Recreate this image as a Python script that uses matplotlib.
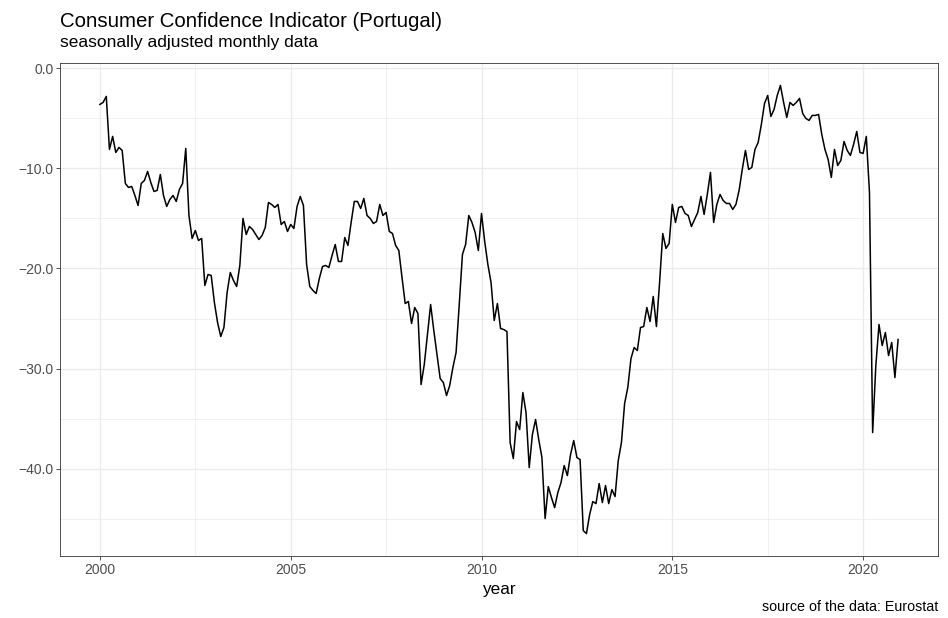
import numpy as np
import pandas as pd
import matplotlib
matplotlib.use("Agg")
import matplotlib.pyplot as plt

# monthly consumer confidence indicator, Portugal, Jan 2000 - Dec 2020
start_year = 2000
cci = [
    -3.6, -3.4, -2.8, -8.1, -6.8, -8.4, -7.9, -8.2, -11.5, -11.9, -11.8, -12.7,
    -13.7, -11.5, -11.2, -10.3, -11.4, -12.3, -12.2, -10.6, -12.7, -13.8, -13.1, -12.7,
    -13.3, -12.1, -11.5, -8.0, -14.7, -17.0, -16.2, -17.2, -17.0, -21.7, -20.6, -20.7,
    -23.4, -25.4, -26.8, -25.9, -22.4, -20.4, -21.2, -21.8, -19.7, -15.0, -16.6, -15.8,
    -16.1, -16.6, -17.1, -16.7, -15.9, -13.4, -13.6, -13.9, -13.6, -15.6, -15.3, -16.3,
    -15.6, -16.0, -13.8, -12.8, -13.7, -19.6, -21.8, -22.2, -22.5, -21.0, -19.8, -19.7,
    -19.9, -18.7, -17.6, -19.3, -19.3, -16.9, -17.7, -15.4, -13.3, -13.3, -14.0, -13.0,
    -14.7, -15.0, -15.5, -15.3, -13.6, -14.7, -14.4, -16.3, -16.5, -17.7, -18.2, -20.9,
    -23.5, -23.3, -25.5, -23.9, -24.5, -31.6, -29.6, -26.6, -23.6, -26.2, -28.6, -31.0,
    -31.4, -32.7, -31.7, -29.9, -28.4, -23.6, -18.6, -17.6, -14.7, -15.4, -16.4, -18.2,
    -14.5, -17.3, -19.6, -21.4, -25.2, -23.5, -26.0, -26.1, -26.3, -37.4, -39.0, -35.3,
    -36.1, -32.4, -34.4, -39.9, -36.6, -35.1, -37.1, -38.9, -45.0, -41.8, -42.9, -43.9,
    -42.4, -41.4, -39.7, -40.7, -38.6, -37.2, -38.9, -39.1, -46.2, -46.5, -44.6, -43.3,
    -43.5, -41.5, -43.4, -41.7, -43.5, -42.1, -42.8, -39.2, -37.4, -33.5, -31.9, -29.0,
    -27.9, -28.2, -25.9, -25.8, -23.9, -25.3, -22.8, -25.8, -21.4, -16.5, -18.0, -17.5,
    -13.6, -15.4, -13.9, -13.8, -14.5, -14.7, -15.8, -15.1, -14.4, -12.8, -14.6, -12.6,
    -10.4, -15.4, -13.6, -12.6, -13.2, -13.5, -13.5, -14.1, -13.6, -12.2, -10.1, -8.2,
    -10.1, -9.9, -8.1, -7.4, -5.6, -3.5, -2.7, -4.8, -4.1, -2.7, -1.7, -3.4,
    -4.9, -3.4, -3.7, -3.4, -3.0, -4.5, -5.0, -5.2, -4.7, -4.7, -4.6, -6.6,
    -8.1, -9.1, -10.9, -8.1, -9.7, -9.2, -7.3, -8.2, -8.7, -7.6, -6.3, -8.4,
    -8.5, -6.8, -12.4, -36.4, -29.7, -25.6, -27.7, -26.4, -28.7, -27.4, -30.9, -27.1,
]
x_breaks = [2000, 2005, 2010, 2015, 2020]
y_breaks = [0, -10, -20, -30, -40]

df = pd.DataFrame({"value": cci})
df["year"] = start_year + np.arange(len(df)) / 12.0

plt.rcParams["font.family"] = ["Liberation Sans", "DejaVu Sans"]

fig = plt.figure(figsize=(9.48, 6.18), dpi=100)
ax = fig.add_axes([60 / 948, 1 - 556 / 618, 878 / 948, 493 / 618])

ax.plot(df["year"], df["value"], color="black", lw=1.1, zorder=3)

# ggplot-like expansion of 5%
xr = df["year"].max() - df["year"].min()
yr = df["value"].max() - df["value"].min()
ax.set_xlim(df["year"].min() - 0.05 * xr, df["year"].max() + 0.05 * xr)
ax.set_ylim(df["value"].min() - 0.05 * yr, df["value"].max() + 0.05 * yr)

ax.set_xticks(x_breaks)
ax.set_xticklabels([str(v) for v in x_breaks])
ax.set_yticks(y_breaks)
ax.set_yticklabels([("%.1f" % v).replace("-", "\u2212") for v in y_breaks])
ax.set_xticks([2002.5, 2007.5, 2012.5, 2017.5], minor=True)
ax.set_yticks([-5, -15, -25, -35, -45], minor=True)

ax.grid(True, which="major", color="#EBEBEB", lw=1.0, zorder=0)
ax.grid(True, which="minor", color="#EBEBEB", lw=0.5, zorder=0)
ax.set_axisbelow(True)
ax.tick_params(which="major", length=3, width=0.6, color="#333333",
               labelsize=10, labelcolor="#4D4D4D", pad=1.8)
ax.tick_params(which="minor", length=0)
for s in ax.spines.values():
    s.set_color("#333333")
    s.set_linewidth(0.6)

fig.text(499 / 948, 1 - 594 / 618, "year", fontsize=12.3,
         ha="center", va="baseline")
fig.text(60 / 948, 1 - 27.3 / 618, "Consumer Confidence Indicator (Portugal)",
         fontsize=14.7, ha="left", va="baseline")
fig.text(60 / 948, 1 - 47.5 / 618, "seasonally adjusted monthly data",
         fontsize=12.5, ha="left", va="baseline")
fig.text(938 / 948, 1 - 611 / 618, "source of the data: Eurostat",
         fontsize=10.3, ha="right", va="baseline")

fig.savefig("out.png", dpi=100)
